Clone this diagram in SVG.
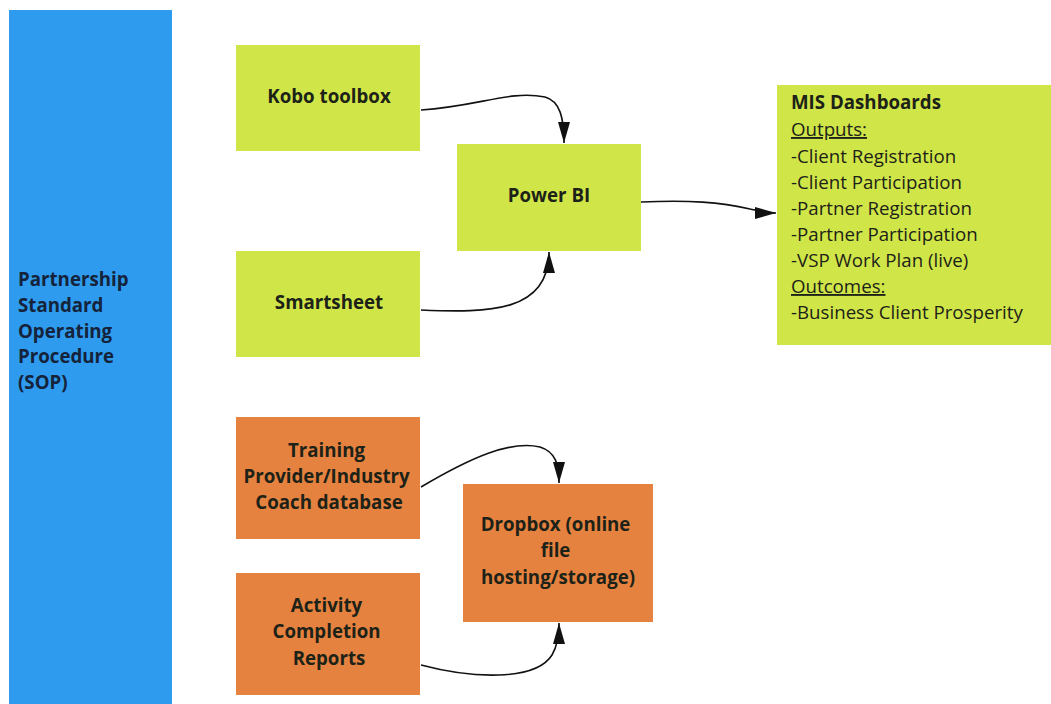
<svg xmlns="http://www.w3.org/2000/svg" width="1051" height="704" viewBox="0 0 1051 704">
  <style>
    .bg { fill: #ffffff; }
    .sop { fill: #2e9bef; }
    .green { fill: #d0e648; }
    .orange { fill: #e6823f; }
    .lbl { font-family: "Open Sans", "Liberation Sans", sans-serif; font-size: 18.7px; font-weight: 700; fill: #1d2218; text-anchor: middle; }
    .sopt { font-family: "Open Sans", "Liberation Sans", sans-serif; font-size: 18.7px; font-weight: 700; fill: #15233a; }
    .mis { font-family: "Open Sans", "Liberation Sans", sans-serif; font-size: 18.7px; fill: #1d2218; }
    .mis .ttl { font-weight: 700; }
    .mis .u { text-decoration: underline; }
    .conn { fill: none; stroke: #111111; stroke-width: 1.6; }
  </style>
  <defs>
    <marker id="arrow" viewBox="0 0 21 12" refX="21" refY="6" markerWidth="21" markerHeight="12" markerUnits="userSpaceOnUse" orient="auto">
      <path d="M0,0 L21,6 L0,12 Z" fill="#111111"/>
    </marker>
  </defs>

  <rect class="bg" x="0" y="0" width="1051" height="704"/>

  <g id="sop">
    <rect class="sop" x="9" y="10" width="163" height="700"/>
    <text class="sopt">
      <tspan x="18" y="286">Partnership</tspan>
      <tspan x="18" y="312">Standard</tspan>
      <tspan x="18" y="338">Operating</tspan>
      <tspan x="18" y="363">Procedure</tspan>
      <tspan x="18" y="389">(SOP)</tspan>
    </text>
  </g>

  <g id="kobo">
    <rect class="green" x="236" y="45" width="184" height="106"/>
    <text class="lbl" x="329" y="103">Kobo toolbox</text>
  </g>

  <g id="smartsheet">
    <rect class="green" x="236" y="251" width="184" height="106"/>
    <text class="lbl" x="329" y="309">Smartsheet</text>
  </g>

  <g id="powerbi">
    <rect class="green" x="457" y="144" width="184" height="107"/>
    <text class="lbl" x="549" y="202">Power BI</text>
  </g>

  <g id="mis">
    <rect class="green" x="777" y="85" width="280" height="260"/>
    <text class="mis">
      <tspan class="ttl" x="791" y="109">MIS Dashboards</tspan>
      <tspan class="u" x="791" y="136">Outputs:</tspan>
      <tspan x="791" y="163">-Client Registration</tspan>
      <tspan x="791" y="189">-Client Participation</tspan>
      <tspan x="791" y="215">-Partner Registration</tspan>
      <tspan x="791" y="241">-Partner Participation</tspan>
      <tspan x="791" y="267">-VSP Work Plan (live)</tspan>
      <tspan class="u" x="791" y="293">Outcomes:</tspan>
      <tspan x="791" y="319">-Business Client Prosperity</tspan>
    </text>
  </g>

  <g id="training">
    <rect class="orange" x="236" y="417" width="184" height="122"/>
    <text class="lbl">
      <tspan x="329" y="457">Training</tspan>
      <tspan x="329" y="483">Provider/Industry</tspan>
      <tspan x="329" y="509">Coach database</tspan>
    </text>
  </g>

  <g id="activity">
    <rect class="orange" x="236" y="573" width="184" height="122"/>
    <text class="lbl">
      <tspan x="329" y="612">Activity</tspan>
      <tspan x="329" y="638">Completion</tspan>
      <tspan x="329" y="665">Reports</tspan>
    </text>
  </g>

  <g id="dropbox">
    <rect class="orange" x="463" y="484" width="190" height="138"/>
    <text class="lbl">
      <tspan x="558" y="531">Dropbox (online</tspan>
      <tspan x="558" y="557">file</tspan>
      <tspan x="558" y="584">hosting/storage)</tspan>
    </text>
  </g>

  <g id="connectors">
    <path class="conn" marker-end="url(#arrow)" d="M421,110 C480,106 510,90 545,97 C560,101 564,118 564,143"/>
    <path class="conn" marker-end="url(#arrow)" d="M421,310 C490,313 549,312 549,252"/>
    <path class="conn" marker-end="url(#arrow)" d="M641,202 C690,200 720,202 750,209 C760,211 768,213 776,213"/>
    <path class="conn" marker-end="url(#arrow)" d="M421,487 C470,458 510,440 540,447 C556,452 559,465 559,483"/>
    <path class="conn" marker-end="url(#arrow)" d="M421,665 C470,678 535,682 552,655 C558,645 559,635 559,623"/>
  </g>
</svg>
